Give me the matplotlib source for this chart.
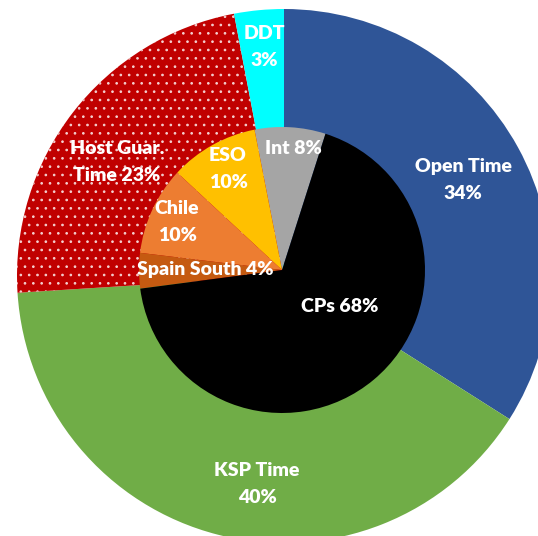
import matplotlib.pyplot as plt

# outer ring: time allocation
outer_labels = ['Open Time', 'KSP Time', 'Host Guar.\nTime', 'DDT']
outer_values = [34, 40, 23, 3]
outer_colors = ['#2F5597', '#70AD47', '#C00000', '#00FFFF']

# inner pie: partners
inner_labels = ['Int', 'ESO', 'Chile', 'Spain South', 'CPs']
inner_values = [8, 10, 10, 4, 68]
inner_colors = ['#A5A5A5', '#FFC000', '#ED7D31', '#C55A11', '#000000']

# layout (pixels, origin bottom-left)
W, H = 538, 536
outer_center, outer_radius = (284, H - 276), 267
inner_center, inner_radius = (282, H - 270), 143
outer_sep = ['\n', '\n', ' ', '\n']
inner_sep = [' ', '\n', '\n', ' ', ' ']
outer_text_pos = [(463, 180), (257, 484), (117, 162), (264, 47)]
inner_text_pos = [(293, 148), (228, 169), (177, 222), (205, 269), (340, 306)]

plt.rcParams['hatch.linewidth'] = 0.7

fig = plt.figure(figsize=(W / 100, H / 100), dpi=100)
ax = fig.add_axes([0, 0, 1, 1])

wedges_out, _ = ax.pie(outer_values, colors=outer_colors, startangle=90,
                       counterclock=False, radius=outer_radius,
                       center=outer_center, wedgeprops=dict(linewidth=0))
# dotted fill for host guaranteed time
wedges_out[2].set_hatch('..')
wedges_out[2].set_edgecolor('#F4D0D0')
wedges_out[2].set_linewidth(0)

ax.pie(inner_values, colors=inner_colors, startangle=72.3,
       counterclock=True, radius=inner_radius, center=inner_center,
       wedgeprops=dict(linewidth=0))

def put_label(text, pos):
    ax.text(pos[0], H - pos[1], text, ha='center', va='center',
            color='white', fontsize=14, fontweight='heavy', family='Lato',
            linespacing=1.7)

for lab, val, sep, pos in zip(outer_labels, outer_values, outer_sep, outer_text_pos):
    put_label(f'{lab}{sep}{val}%', pos)
for lab, val, sep, pos in zip(inner_labels, inner_values, inner_sep, inner_text_pos):
    put_label(f'{lab}{sep}{val}%', pos)

ax.set_xlim(0, W)
ax.set_ylim(0, H)
ax.set_aspect('auto')
ax.axis('off')

fig.savefig('out.png', dpi=100)
